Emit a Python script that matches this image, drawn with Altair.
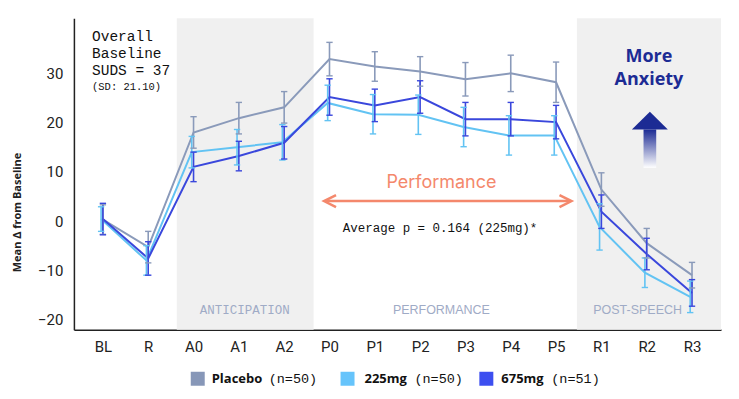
import json
import altair as alt
import pandas as pd

# ---------------- data ----------------
labels = ["BL", "R", "A0", "A1", "A2", "P0", "P1", "P2", "P3", "P4", "P5", "R1", "R2", "R3"]
series = ["Placebo", "225mg", "675mg"]
series_n = ["(n=50)", "(n=50)", "(n=51)"]

placebo = [0.3, -5.3, 18.0, 20.9, 23.1, 32.9, 31.4, 30.4, 28.8, 30.0, 28.2, 6.4, -4.5, -11.0]
placebo_err = [3.0, 3.2, 3.2, 3.2, 3.2, 3.4, 3.0, 3.0, 3.4, 3.7, 4.1, 3.4, 3.0, 2.6]

mg225 = [0.4, -8.0, 14.0, 15.0, 16.0, 24.0, 21.7, 21.6, 19.1, 17.4, 17.4, -1.2, -10.5, -15.4]
mg225_err = [2.5, 3.0, 3.2, 3.6, 3.6, 3.6, 4.0, 4.0, 4.0, 4.0, 4.0, 4.7, 3.0, 3.2]

mg675 = [0.4, -7.6, 11.0, 13.2, 15.9, 25.2, 23.5, 25.2, 20.7, 20.7, 20.1, 1.9, -6.7, -14.6]
mg675_err = [3.2, 3.4, 3.0, 3.0, 3.3, 3.7, 3.3, 3.3, 3.4, 3.4, 3.4, 3.4, 3.2, 2.7]

region_names = ["ANTICIPATION", "PERFORMANCE", "POST-SPEECH"]
region_shaded = [True, False, True]

# ---------------- styling ----------------
line_colors = ["#8a9aba", "#62c3f3", "#3a47dc"]
swatch_colors = ["#8797b8", "#66c4fb", "#3d4ff0"]
dodge = {"Placebo": 0.0, "225mg": -0.04, "675mg": 0.0}

W, H = 648, 312
X_DOM = [-0.64, 13.64]
Y_DOM = [-22.1, 41.2]

rows = []
for name, vals, errs in zip(series, [placebo, mg225, mg675], [placebo_err, mg225_err, mg675_err]):
    for i, (v, e) in enumerate(zip(vals, errs)):
        rows.append({"series": name, "idx": i, "value": v, "err": e, "dx": dodge[name]})
df = pd.DataFrame(rows)

xs = alt.Scale(domain=X_DOM, nice=False, zero=False)
ys = alt.Scale(domain=Y_DOM, nice=False, zero=False)
cs = alt.Scale(domain=series, range=line_colors)

label_expr = json.dumps(labels) + "[datum.value]"

x_axis = alt.Axis(values=list(range(len(labels))), labelExpr=label_expr, title=None,
                  grid=False, ticks=False, labelPadding=10, labelFontSize=15,
                  labelFont="Roboto", labelColor="#222", domainColor="#222", domainWidth=1.5)
y_axis = alt.Axis(values=[-20, -10, 0, 10, 20, 30], title="Mean Δ from Baseline",
                  grid=False, ticks=False, labelPadding=11, labelFontSize=15,
                  labelFont="Roboto", labelColor="#222", domainColor="#222", domainWidth=1.5,
                  titleFont="Open Sans", titleFontSize=11, titleFontWeight="bold",
                  titleColor="#222", titleAngle=270, titleX=-56, titleY=194,
                  titleAlign="center", titleBaseline="middle")


def X(field):
    return alt.X(field, scale=xs, axis=x_axis, title=None)


def Y(field):
    return alt.Y(field, scale=ys, axis=y_axis, title="Mean Δ from Baseline")


base = (alt.Chart(df)
        .transform_calculate(xp="datum.idx + datum.dx")
        .transform_calculate(lo="datum.value - datum.err", hi="datum.value + datum.err")
        .transform_calculate(xl="datum.xp - 0.07", xr="datum.xp + 0.07"))

# shaded regions
reg_df = pd.DataFrame({"name": region_names, "shaded": region_shaded,
                       "start": [1.63, 4.65, 10.46], "end": [4.65, 10.46, 13.64],
                       "mid": [3.13, 7.47, 11.8], "ly": [-18.1, -18.1, -18.1]})
shade = alt.Chart(reg_df).transform_filter("datum.shaded").mark_rect(color="#f0f0f0").encode(
    x=X("start:Q"), x2="end:Q",
    y=alt.value(0), y2=alt.value(H))
reg_text_mono = alt.Chart(reg_df).transform_filter("datum.name == 'ANTICIPATION'").mark_text(
    font="Liberation Mono", fontSize=12.5, color="#9fabc6", baseline="middle").encode(
    x=X("mid:Q"), y=Y("ly:Q"), text="name:N")
reg_text_sans = alt.Chart(reg_df).transform_filter("datum.name != 'ANTICIPATION'").mark_text(
    font="Liberation Sans", fontSize=12.5, color="#9fabc6", baseline="middle").encode(
    x=X("mid:Q"), y=Y("ly:Q"), text="name:N")

lines = base.mark_line(strokeWidth=2).encode(
    x=X("xp:Q"), y=Y("value:Q"),
    color=alt.Color("series:N", scale=cs, legend=None),
    detail="series:N")
bars = base.mark_rule(strokeWidth=1.6).encode(
    x=X("xp:Q"), y=Y("lo:Q"), y2="hi:Q",
    color=alt.Color("series:N", scale=cs, legend=None))
cap_hi = base.mark_rule(strokeWidth=1.4).encode(
    x=X("xl:Q"), x2="xr:Q", y=Y("hi:Q"),
    color=alt.Color("series:N", scale=cs, legend=None))
cap_lo = base.mark_rule(strokeWidth=1.4).encode(
    x=X("xl:Q"), x2="xr:Q", y=Y("lo:Q"),
    color=alt.Color("series:N", scale=cs, legend=None))

# annotations
ann = pd.DataFrame({"k": ["a"]})
A = alt.Chart(ann)

baseline_txt = A.mark_text(font="Liberation Mono", fontSize=14.5, align="left", baseline="middle",
                           lineBreak="\n", lineHeight=17, color="#111").encode(
    x=X("x:Q"), y=Y("y:Q"), text="t:N"
).transform_calculate(x="-0.24", y="37.3", t="'Overall\\nBaseline\\nSUDS = 37'")
sd_txt = A.mark_text(font="Liberation Mono", fontSize=10.5, align="left", baseline="middle",
                     color="#111").encode(
    x=X("x:Q"), y=Y("y:Q"), text="t:N"
).transform_calculate(x="-0.24", y="27.2", t="'(SD: 21.10)'")

perf_col = "#f4886c"
perf_rule = A.mark_rule(color=perf_col, strokeWidth=2.5).encode(
    x=X("x1:Q"), x2="x2:Q", y=Y("y:Q")
).transform_calculate(x1="4.9", x2="10.32", y="4.06")
perf_left = A.mark_point(shape="M 1 -0.5 L 0 0 L 1 0.5", size=576, filled=False,
                         color=perf_col, strokeWidth=2.5, opacity=1).encode(
    x=X("x:Q"), y=Y("y:Q")
).transform_calculate(x="4.88", y="4.06")
perf_right = A.mark_point(shape="M -1 -0.5 L 0 0 L -1 0.5", size=576, filled=False,
                          color=perf_col, strokeWidth=2.5, opacity=1).encode(
    x=X("x:Q"), y=Y("y:Q")
).transform_calculate(x="10.34", y="4.06")
perf_txt = A.mark_text(font="Inter", fontSize=18, color=perf_col, baseline="middle").encode(
    x=X("x:Q"), y=Y("y:Q"), text="t:N"
).transform_calculate(x="7.47", y="7.7", t="'Performance'")
avg_txt = A.mark_text(font="Liberation Mono", fontSize=12.5, color="#111", baseline="middle").encode(
    x=X("x:Q"), y=Y("y:Q"), text="t:N"
).transform_calculate(x="7.44", y="-1.4", t="'Average p = 0.164 (225mg)*'")

navy = "#1c2b94"
more_txt = A.mark_text(font="Open Sans", fontSize=18, fontWeight="bold", color=navy,
                       baseline="middle", lineBreak="\n", lineHeight=23).encode(
    x=X("x:Q"), y=Y("y:Q"), text="t:N"
).transform_calculate(x="12.05", y="33.3", t="'More\\nAnxiety'")
grad = alt.LinearGradient(gradient="linear", x1=0, x2=0, y1=0, y2=1,
                          stops=[alt.GradientStop(color=navy, offset=0),
                                 alt.GradientStop(color="#ffffff", offset=1)])
shaft = A.mark_rect(color=grad).encode(
    x=X("x1:Q"), x2="x2:Q", y=Y("y1:Q"), y2="y2:Q"
).transform_calculate(x1="11.93", x2="12.21", y1="18.6", y2="10.8")
head = A.mark_point(shape="M -1 0.5 L 0 -0.5 L 1 0.5 Z", size=1296, filled=True,
                    color=navy, opacity=1).encode(
    x=X("x:Q"), y=Y("y:Q")
).transform_calculate(x="12.07", y="20.4")

# custom legend (positions in pixels relative to plot origin)
leg_y = 361
leg_swatch_x = [124, 274, 413]
leg_label_x = [138, 291, 428]
leg_n_x = [195, 341, 478]
legend_layers = []
for name, n, col, sx, lx, nx in zip(series, series_n, swatch_colors, leg_swatch_x, leg_label_x, leg_n_x):
    legend_layers.append(A.mark_square(size=196, color=col, opacity=1).encode(
        x=alt.value(sx), y=alt.value(leg_y)))
    legend_layers.append(A.mark_text(font="Open Sans", fontSize=13, fontWeight="bold", color="#111",
                                     align="left", baseline="middle").encode(
        x=alt.value(lx), y=alt.value(leg_y), text=alt.value(name)))
    legend_layers.append(A.mark_text(font="Liberation Mono", fontSize=13.5, color="#111",
                                     align="left", baseline="middle").encode(
        x=alt.value(nx), y=alt.value(leg_y), text=alt.value(n)))

chart = alt.layer(
    shade, reg_text_mono, reg_text_sans,
    lines, bars, cap_hi, cap_lo,
    baseline_txt, sd_txt, perf_rule, perf_left, perf_right, perf_txt, avg_txt,
    shaft, head, more_txt,
    *legend_layers
).properties(
    width=W, height=H,
    autosize=alt.AutoSizeParams(type="none"),
    padding={"left": 66, "top": 10, "right": 10, "bottom": 60},
    background="white"
).configure_view(stroke=None)

chart.save("out.html", embed_options={"renderer": "svg", "actions": False})
